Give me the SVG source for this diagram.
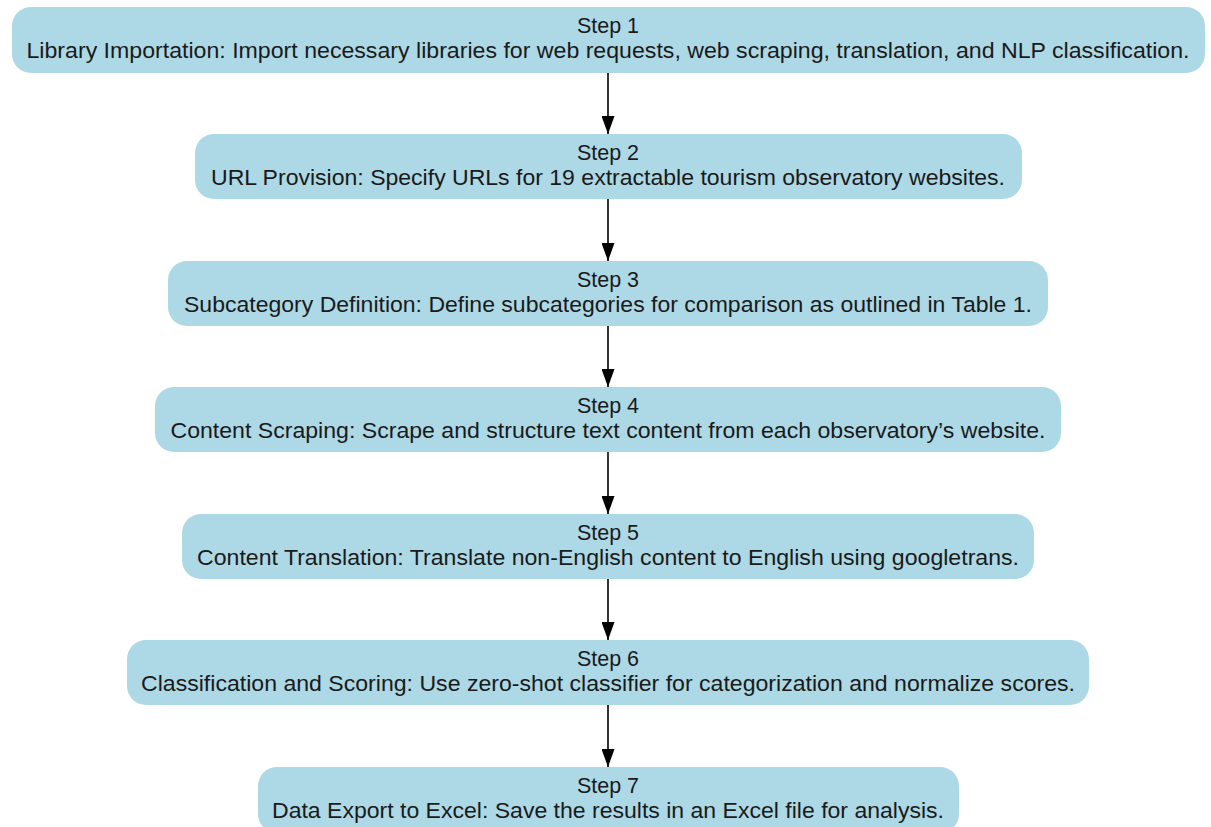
<svg xmlns="http://www.w3.org/2000/svg" width="1211" height="827" viewBox="0 0 1211 827">
<defs>
<style>
.box{fill:#ADD8E6;stroke:none}
.t{font-family:"Liberation Sans",Arial,sans-serif;font-size:21.5px;fill:#1a1a1a;text-anchor:middle}
.edge{stroke:#000;stroke-width:1.6;fill:none}
</style>
<marker id="ah" markerWidth="18" markerHeight="13" refX="18" refY="6.5" orient="auto" markerUnits="userSpaceOnUse" viewBox="0 0 18 13">
<path d="M0,0 L18,6.5 L0,13 Z" fill="#000"/>
</marker>
</defs>
<rect width="1211" height="827" fill="#fff"/>
<g id="connectors">
<line class="edge" x1="608" y1="72" x2="608" y2="134" marker-end="url(#ah)"/>
<line class="edge" x1="608" y1="199" x2="608" y2="261" marker-end="url(#ah)"/>
<line class="edge" x1="608" y1="325" x2="608" y2="387" marker-end="url(#ah)"/>
<line class="edge" x1="608" y1="452" x2="608" y2="514" marker-end="url(#ah)"/>
<line class="edge" x1="608" y1="579" x2="608" y2="640" marker-end="url(#ah)"/>
<line class="edge" x1="608" y1="705" x2="608" y2="767" marker-end="url(#ah)"/>
</g>
<g id="step1">
<rect class="box" x="12" y="7" width="1193" height="66" rx="19"/>
<text class="t" x="608" y="33">Step 1</text>
<text class="t" x="608" y="58" textLength="1163" lengthAdjust="spacingAndGlyphs">Library Importation: Import necessary libraries for web requests, web scraping, translation, and NLP classification.</text>
</g>
<g id="step2">
<rect class="box" x="195" y="134" width="827" height="65" rx="19"/>
<text class="t" x="608" y="160">Step 2</text>
<text class="t" x="608" y="185" textLength="794" lengthAdjust="spacingAndGlyphs">URL Provision: Specify URLs for 19 extractable tourism observatory websites.</text>
</g>
<g id="step3">
<rect class="box" x="168" y="261" width="880" height="65" rx="19"/>
<text class="t" x="608" y="287">Step 3</text>
<text class="t" x="608" y="312" textLength="848" lengthAdjust="spacingAndGlyphs">Subcategory Definition: Define subcategories for comparison as outlined in Table 1.</text>
</g>
<g id="step4">
<rect class="box" x="155" y="387" width="906" height="65" rx="19"/>
<text class="t" x="608" y="413">Step 4</text>
<text class="t" x="608" y="438" textLength="875" lengthAdjust="spacingAndGlyphs">Content Scraping: Scrape and structure text content from each observatory’s website.</text>
</g>
<g id="step5">
<rect class="box" x="182" y="514" width="852" height="65" rx="19"/>
<text class="t" x="608" y="540">Step 5</text>
<text class="t" x="608" y="565" textLength="822" lengthAdjust="spacingAndGlyphs">Content Translation: Translate non-English content to English using googletrans.</text>
</g>
<g id="step6">
<rect class="box" x="127" y="640" width="962" height="65" rx="19"/>
<text class="t" x="608" y="666">Step 6</text>
<text class="t" x="608" y="691" textLength="934" lengthAdjust="spacingAndGlyphs">Classification and Scoring: Use zero-shot classifier for categorization and normalize scores.</text>
</g>
<g id="step7">
<rect class="box" x="258" y="767" width="701" height="66" rx="19"/>
<text class="t" x="608" y="793">Step 7</text>
<text class="t" x="608" y="818" textLength="672" lengthAdjust="spacingAndGlyphs">Data Export to Excel: Save the results in an Excel file for analysis.</text>
</g>
</svg>
